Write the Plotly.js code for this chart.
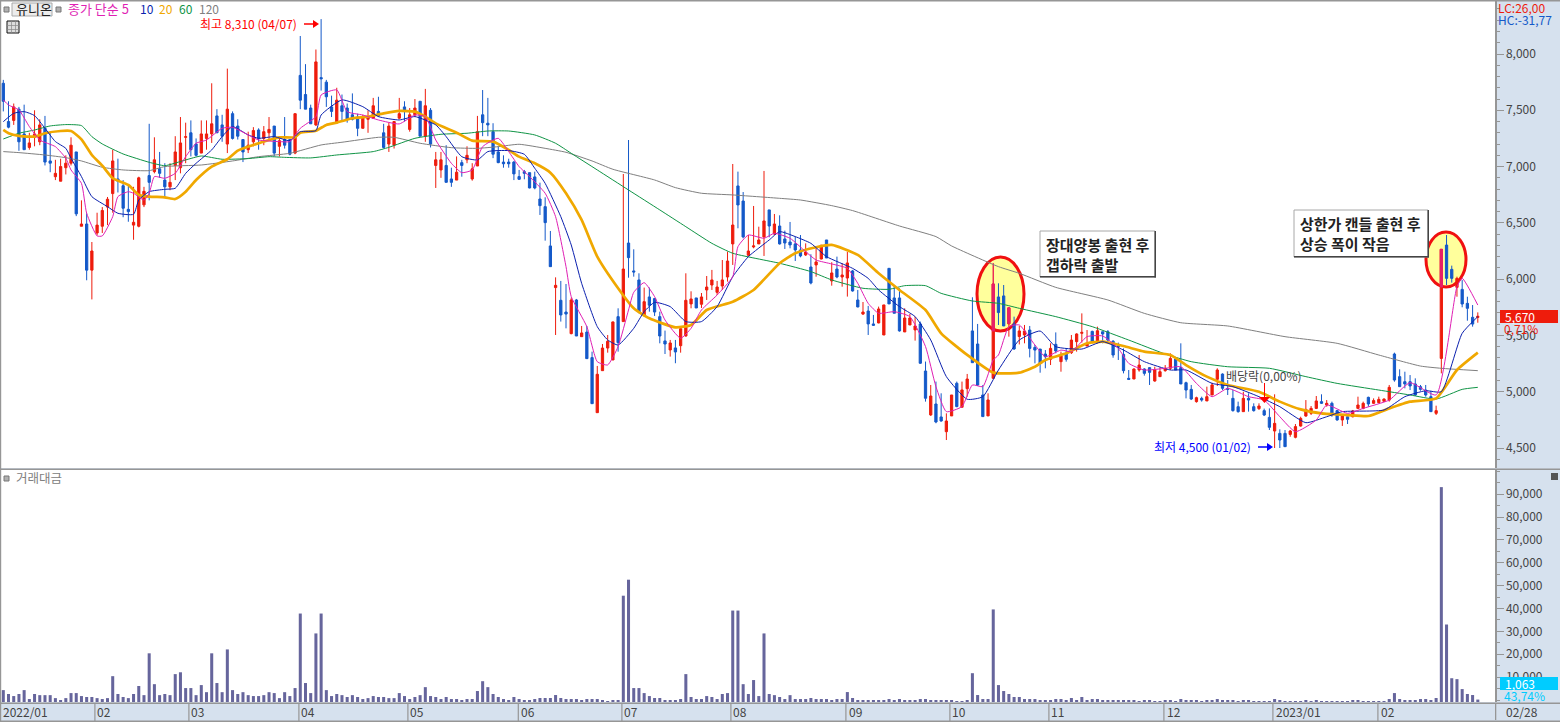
<!DOCTYPE html>
<html><head><meta charset="utf-8">
<script src="https://cdn.plot.ly/plotly-3.0.1.min.js"></script>
<style>html,body{margin:0;padding:0;background:#fff}#c{width:1560px;height:722px}</style>
</head><body><div id="c"></div>
<script>
// OHLC (one candle per trading day, 2022/01 .. 2023/02/28)
const openP=[7740,7400,7410,7510,7290,7170,7260,7220,7340,7050,6910,6870,6990,7030,7130,6470,6490,6080,6410,6470,6640,6760,6890,6830,6620,6480,6470,6660,6920,6955,6980,6880,6820,7010,6990,7260,7300,7200,7120,7250,7290,7450,7370,7200,7470,7360,7240,7150,7220,7325,7250,7300,7360,7180,7240,7240,7120,7810,7640,7520,7370,7790,7750,7530,7390,7540,7520,7460,7440,7340,7420,7430,7490,7300,7200,7190,7430,7530,7330,7460,7580,7270,7500,7010,6970,7010,6890,6880,7035,7060,6890,7005,7460,7385,7310,7130,
7040,7040,7040,6911,6955,6946,6908,6712,6644,6295,5925,5812,5708,5516,5815,5489,5530,5303,4814,5187,5388,5282,5667,5623,6321,6073,5993,5676,5842,5827,5667,5451,5371,5389,5409,5495,5780,5833,5777,5904,5948,5883,5939,6019,6313,6828,6694,6212,6286,6313,6375,6615,6401,6472,6357,6330,6313,6259,6215,6108,6126,6179,6348,5984,6090,6019,6010,6073,5815,5690,5717,5602,5611,5504,6096,5833,5833,5531,5593,5549,5602,5184,4794,4891,4776,4645,4785,5075,4862,5027,5540,5424,4971,4785,5119,5842,5851,5602,5602,
5490,5504,5548,5394,5379,5335,5288,5421,5267,5335,5347,5445,5519,5406,5536,5445,5533,5533,5448,5406,5332,5119,5113,5193,5202,5214,5095,5134,5187,5208,5290,5214,5080,5021,4912,4941,4918,4971,5110,5157,5030,4941,4867,4823,4941,4867,4850,4832,4772,4651,4630,4630,4621,4595,4695,4784,4808,4852,4912,4882,4897,4832,4749,4778,4778,4852,4852,4950,4897,4903,4915,4926,5335,5134,5089,5089,5069,5045,5015,4956,4808,5296,6303,6087,5927,5909,5785,5661,5660];
const highP=[7770,7580,7560,7530,7550,7300,7500,7420,7450,7310,7060,7070,7100,7260,7130,6700,6585,6330,6590,6640,6730,7150,7070,6880,6840,6820,6910,6820,7380,7260,7130,7030,7030,7270,7440,7390,7410,7250,7410,7410,7740,7510,7460,7870,7490,7420,7240,7310,7350,7340,7360,7440,7360,7270,7440,7240,7470,8160,7910,7550,8040,8310,7770,7630,7700,7640,7560,7650,7470,7460,7500,7610,7620,7380,7390,7400,7610,7580,7520,7600,7580,7690,7520,7130,7130,7190,6990,7090,7060,7180,7030,7450,7680,7610,7385,7180,
7100,7070,7050,6970,6970,6946,6955,6857,6727,6428,6016,5984,5957,5836,5824,5584,5584,5356,5229,5424,5504,5623,5741,6934,7236,6265,6052,5925,5925,5830,5711,5543,5460,5460,5578,6052,5892,5833,5877,6028,6082,5984,6170,6244,7023,6955,6774,6392,6650,6466,6961,6615,6579,6567,6431,6508,6378,6392,6318,6221,6289,6304,6348,6150,6200,6141,6241,6082,5904,5797,5762,5682,5756,5771,6096,5948,5919,5741,5691,5667,5623,5268,5060,5090,4986,4808,4971,5090,5090,5158,5839,5602,5060,4986,6141,5963,5948,5747,5667,
5585,5593,5584,5415,5379,5370,5430,5527,5356,5379,5504,5519,5696,5548,5542,5578,5533,5548,5459,5436,5385,5193,5208,5326,5208,5217,5222,5217,5237,5341,5305,5430,5089,5060,4956,4956,5045,5080,5208,5163,5104,5015,4912,5000,4986,4897,4897,4850,4852,4977,4666,4660,4660,4713,4778,4926,4873,4962,4977,4926,4912,4838,4793,4778,4838,4956,4912,4956,4941,4956,4941,5060,5347,5199,5178,5148,5119,5060,5060,5009,4876,6265,6392,6120,6022,5992,5844,5770,5705];
const lowP=[7490,7340,7370,7140,7150,7150,7180,7190,7010,6950,6880,6870,6930,7010,6560,6470,5990,5820,6390,6410,6480,6590,6770,6550,6510,6350,6460,6640,6700,6940,6900,6720,6790,6880,6940,7030,7090,7090,7120,7150,7210,7300,7220,7120,7240,7240,7040,7120,7180,7150,7190,7240,7090,7090,7160,7100,7110,7510,7510,7380,7360,7675,7530,7440,7380,7410,7390,7410,7270,7340,7300,7430,7440,7160,7130,7160,7420,7400,7310,7440,7270,7220,7170,6810,6900,6860,6820,6880,6910,7030,6875,7005,7270,7270,7075,7030,
6990,6990,6880,6881,6887,6807,6798,6570,6342,6111,5504,5623,5563,5510,5495,5489,5294,4894,4814,5187,5347,5282,5356,5623,6013,6022,5697,5667,5711,5673,5430,5335,5312,5253,5347,5489,5741,5744,5744,5815,5904,5859,5904,5978,6126,6452,6363,6206,6274,6313,6206,6372,6392,6307,6268,6274,6161,6194,6206,5954,6022,6176,6188,5942,6008,5933,5845,5889,5750,5682,5504,5584,5608,5504,5780,5697,5534,5531,5593,5454,5247,4912,4785,4720,4734,4571,4785,4862,4862,4956,5258,5051,4779,4785,5119,5593,5584,5489,5371,
5420,5430,5305,5252,5169,5208,5237,5341,5178,5267,5335,5356,5436,5406,5430,5430,5430,5445,5302,5282,5163,5104,5113,5178,5143,5060,5089,5134,5178,5193,5193,5069,4941,4926,4903,4912,4918,4971,5051,5015,4971,4823,4814,4823,4823,4823,4838,4784,4660,4500,4500,4512,4600,4586,4690,4778,4793,4846,4891,4867,4778,4743,4696,4713,4772,4852,4844,4867,4891,4897,4912,4912,5089,5045,5030,5015,4962,5009,4956,4823,4793,5163,5948,5969,5844,5750,5631,5578,5613];
const closeP=[7580,7350,7530,7220,7150,7210,7290,7370,7040,7030,6940,7000,7030,7190,6580,6490,6080,6250,6480,6610,6710,7050,6870,6630,6600,6505,6900,6780,6860,7060,6940,6820,6860,7130,7210,7265,7150,7100,7290,7290,7380,7300,7270,7510,7250,7270,7130,7190,7320,7250,7310,7330,7120,7230,7190,7110,7470,7590,7510,7380,7930,7780,7620,7490,7590,7490,7420,7420,7340,7440,7440,7540,7450,7170,7360,7400,7470,7490,7460,7520,7270,7540,7200,7060,7060,6860,6860,6950,7010,7100,6980,7310,7390,7370,7110,7035,
7025,7025,6935,6887,6940,6810,6810,6653,6502,6111,5945,5682,5690,5815,5495,5522,5294,4894,5155,5388,5448,5620,5436,6090,6191,6064,5708,5800,5768,5708,5495,5424,5433,5353,5560,5812,5824,5744,5842,5930,5993,5930,5993,6161,6481,6659,6375,6250,6295,6348,6517,6472,6490,6313,6321,6304,6259,6206,6241,5966,6153,6301,6188,6055,6019,6037,6144,5895,5753,5708,5602,5590,5735,5771,5780,5697,5540,5655,5655,5584,5253,4942,4962,4731,4740,4740,4971,4868,5016,5113,5258,5060,4779,4927,5957,5703,5584,5744,5380,
5540,5540,5385,5370,5252,5311,5385,5362,5317,5288,5459,5513,5527,5424,5445,5542,5513,5459,5326,5400,5187,5110,5202,5237,5163,5172,5193,5178,5208,5296,5193,5069,5015,4935,4947,4926,4956,5060,5193,5030,5021,4832,4823,4941,4926,4832,4873,4793,4684,4719,4571,4512,4651,4690,4763,4843,4852,4918,4897,4897,4793,4749,4784,4755,4829,4882,4897,4891,4921,4932,4935,5039,5104,5045,5069,5051,4971,5021,4971,4823,4832,6265,6007,6007,6007,5779,5741,5601,5670];
// 거래대금 (turnover)
const turnover=[5200,3500,2600,3500,5200,1300,3500,3000,3000,3000,1700,870,1700,3900,3900,2600,2200,2200,1700,1300,1700,11300,3500,2200,1700,3500,7000,3000,21300,7800,3000,3500,3000,12200,13000,6100,6100,3000,7400,4300,21300,8300,4300,23000,5200,3500,4300,3000,2600,2600,3000,4300,3900,1700,4300,2600,6100,38700,8300,3900,30000,38700,5200,2600,3500,3000,2200,3000,2200,1300,1700,2600,2200,2200,1700,1700,3900,2600,1300,2200,3000,6500,2600,2200,1300,2200,1300,1300,870,1300,1300,4800,9100,6500,3500,2200,1300,870,2200,1300,
870,870,1300,1740,1740,1740,3050,1740,1300,1300,1300,870,1300,1300,1300,870,435,870,870,46500,53500,6100,6100,3900,2600,1740,1740,870,870,870,1300,12200,2200,1300,1300,2600,2200,1300,3500,3900,40000,40000,7800,3500,9600,2600,30000,3500,3000,2200,1300,3000,1300,1300,1300,1740,1300,1300,1300,870,1300,1300,4350,1740,870,870,870,870,870,870,1300,870,1300,870,870,870,1300,1300,870,870,870,870,870,435,435,870,12600,3050,1300,1300,40500,7400,4800,3500,2200,2200,1300,1300,1300,
870,870,870,1300,1300,870,1740,870,2200,870,1300,1300,870,870,870,870,870,870,870,435,870,870,435,435,870,870,435,1300,870,870,870,435,870,870,1300,870,870,870,435,870,870,435,435,435,435,1300,870,435,435,435,435,870,435,870,435,435,435,435,435,435,870,870,435,435,435,435,435,1300,3900,1300,870,870,870,1300,1300,870,1740,94000,33900,10400,10000,5650,3500,3050,1063];
// Moving averages at the candle positions given
const ma5X=[0,1,3,5,7,10,12,13,15,16,18,19,21,22,24,25,27,28,29,31,33,35,37,39,42,44,47,49,53,55,57,60,61,64,66,69,72,76,79,81,83,86,88,90,92,95,97,99,101,104,106,108,109,112,114,116,118,120,121,123,125,127,130,132,134,137,140,141,143,146,148,151,154,156,159,162,164,166,168,171,174,177,179,181,184,186,188,190,191,193,195,198,200,203,205,208,211,214,216,219,223,226,229,232,235,239,242,245,248,252,254,258,261,266,270,275,279,280,283];
const ma5=[7592,7547,7503,7355,7236,7177,7074,6970,6851,6585,6384,6384,6555,6733,6777,6763,6703,6763,6911,6896,6940,7088,7207,7236,7340,7349,7281,7236,7222,7222,7340,7444,7636,7681,7488,7458,7414,7379,7458,7444,7236,7029,6946,6970,7177,7251,7133,7000,6911,6763,6555,6111,5845,5578,5267,5238,5401,5726,5883,5969,5845,5637,5475,5563,5726,5859,6022,6289,6392,6363,6407,6363,6244,6170,6135,6096,5963,5785,5697,5711,5667,5401,5045,4823,4868,5060,5045,5282,5326,5578,5593,5415,5311,5370,5356,5489,5495,5385,5252,5193,5208,5222,5074,4956,5030,4956,4926,4778,4645,4749,4882,4808,4852,4926,5080,4971,5933,6007,5770];
const ma10X=[0,2,4,6,8,10,12,13,15,17,20,22,25,26,28,31,33,35,37,40,42,44,47,49,52,55,57,60,61,65,69,72,76,79,83,85,88,91,93,97,100,102,104,107,109,111,114,116,118,121,123,125,128,131,134,137,140,143,147,149,152,155,158,163,166,168,172,175,178,181,185,188,191,195,199,202,207,211,215,219,224,227,232,236,241,245,250,254,257,265,269,273,276,280,283];
const ma10=[7399,7473,7488,7453,7340,7222,7162,7074,6911,6733,6644,6585,6576,6703,6777,6798,6807,6940,7029,7148,7266,7355,7281,7251,7266,7230,7310,7319,7458,7592,7532,7444,7414,7444,7370,7266,7088,7059,7133,7142,7109,6985,6851,6555,6304,5963,5578,5460,5415,5563,5711,5794,5756,5623,5623,5756,6022,6200,6348,6422,6378,6318,6200,6096,6007,5904,5756,5667,5460,5134,4933,4956,5193,5459,5539,5400,5379,5445,5370,5267,5193,5193,5074,5045,4956,4867,4725,4778,4823,4838,4956,5009,5000,5519,5667];
const ma20X=[0,1,3,6,8,11,13,15,17,19,21,24,26,28,31,33,35,37,40,43,45,48,51,53,56,57,60,62,64,67,70,73,76,79,81,83,87,90,94,97,99,102,105,108,111,114,118,121,124,129,132,135,140,144,149,152,156,159,164,168,172,177,180,185,190,195,198,200,204,208,211,215,219,224,227,231,235,241,245,249,253,258,262,266,270,275,279,283];
const ma20=[7325,7296,7272,7266,7296,7316,7316,7242,7103,7008,6896,6837,6748,6733,6727,6712,6777,6881,7000,7065,7142,7192,7236,7260,7260,7301,7319,7370,7390,7429,7444,7473,7494,7488,7444,7384,7301,7230,7222,7148,7088,7029,6946,6763,6526,6200,5919,5741,5652,5572,5593,5726,5800,5904,6141,6230,6283,6304,6215,6052,5904,5726,5519,5327,5170,5169,5222,5282,5341,5430,5445,5406,5356,5326,5237,5134,5060,5000,4912,4843,4808,4793,4784,4852,4912,4941,5193,5347];
const ma60X=[0,3,6,9,12,15,17,19,23,28,31,35,38,42,47,51,54,59,64,71,74,79,84,89,93,97,102,106,109,114,120,126,131,136,140,149,155,159,165,170,173,177,180,186,191,195,202,209,216,223,228,235,243,250,256,264,270,275,280,283];
const ma60=[7245,7296,7325,7361,7373,7364,7266,7201,7112,7038,7008,7059,7094,7065,7071,7088,7082,7077,7103,7133,7171,7251,7287,7296,7316,7316,7281,7207,7118,6970,6792,6615,6466,6318,6230,6141,6067,5993,5919,5910,5942,5942,5874,5806,5785,5741,5667,5578,5459,5335,5267,5222,5208,5134,5074,5015,4971,4935,5021,5039];
const ma120X=[0,3,8,12,15,19,23,28,31,38,44,49,55,61,65,72,75,80,86,91,95,99,104,108,113,117,125,129,134,140,149,153,159,163,172,179,182,191,195,202,212,219,226,235,246,256,264,272,276,283];
const ma120=[7133,7124,7103,7079,7050,6994,6970,6964,7000,7014,7050,7088,7118,7192,7216,7260,7260,7207,7168,7162,7177,7198,7162,7127,7050,6976,6881,6813,6763,6748,6718,6703,6653,6609,6472,6378,6295,6111,6052,5927,5815,5696,5613,5584,5489,5430,5326,5228,5208,5187];
// pink parts of candles seen through the yellow highlight
const hiX=[190,193,276], hiOpen=[5539,5607,5930], hiHigh=[6141,5747,6265], hiLow=[5539,5607,5930], hiClose=[5957,5747,6265];
// Axis text
const monthLabels=['2022/01','02','03','04','05','06','07','08','09','10','11','12','2023/01','02'];
const monthIdx=[-0.5,17.5,35.5,56.6,77.5,98.8,118.6,139.5,161.7,181.6,200.6,222.8,243.7,263.9];
const priceTicks=[4500,5000,5500,6000,6500,7000,7500,8000];
const turnTicks=[10000,20000,30000,40000,50000,60000,70000,80000,90000];

const F='"Noto Sans CJK KR","Liberation Sans",sans-serif';
const W=1560,H=722,PW=1495,PH=702;
const RED='#ee1c0c',BLUE='#1459c9',GRID='#969696',BG='#d6e1ee';
const px=x=>x/PW, py=y=>(PH-y)/PH;
const idx=openP.map((_,i)=>i);

const candle=(x,o,h,l,c,col,name)=>({type:'candlestick',x,open:o,high:h,low:l,close:c,name,xaxis:'x',yaxis:'y',hoverinfo:'skip',showlegend:false,whiskerwidth:0,
  increasing:{line:{color:col.up,width:1},fillcolor:col.up},decreasing:{line:{color:col.dn,width:1},fillcolor:col.dn}});
const line=(x,y,color,width,name)=>({type:'scatter',mode:'lines',x,y,name,xaxis:'x',yaxis:'y',hoverinfo:'skip',showlegend:false,line:{color,width,shape:'spline',smoothing:0.5}});

const traces=[
  line(ma120X,ma120,'#7f7f7f',1,'120'),
  line(ma60X,ma60,'#0f9445',1,'60'),
  candle(idx,openP,highP,lowP,closeP,{up:RED,dn:BLUE},'price'),
  candle(hiX,hiOpen,hiHigh,hiLow,hiClose,{up:'#e8206a',dn:'#e8206a'},'highlight'),
  line(ma20X,ma20,'#f0a800',2.7,'20'),
  line(ma10X,ma10,'#0a1fae',1,'10'),
  line(ma5X,ma5,'#e01fb4',1,'5'),
  {type:'bar',x:idx,y:turnover,base:-875,width:0.58,marker:{color:'#66659c',line:{width:0}},xaxis:'x',yaxis:'y2',hoverinfo:'skip',showlegend:false,name:'거래대금'}
];

const R=(x0,y0,x1,y1,fill,lc,lw)=>({type:'rect',xref:'paper',yref:'paper',x0:px(x0),x1:px(x1),y0:py(y1),y1:py(y0),fillcolor:fill,line:lc?{color:lc,width:lw||1}:{width:0}});
const shapes=[
 {type:'circle',xref:'paper',yref:'paper',x0:px(977),x1:px(1024),y0:py(331),y1:py(257),fillcolor:'#ffff9c',line:{color:'#f01010',width:3},layer:'below'},
 {type:'circle',xref:'paper',yref:'paper',x0:px(1426),x1:px(1466),y0:py(287),y1:py(232),fillcolor:'#ffff9c',line:{color:'#f01010',width:3},layer:'below'},
 R(0,468.5,W,470,GRID), R(0,0,W,1.5,GRID), R(0,0,1.2,H,GRID), R(0,702.5,W,704,GRID), R(0,720.5,W,722,GRID), R(1495,703,1496.3,720,GRID),
 // value flags on the right axis
 R(1500,310,1558,323,RED), R(1500,677,1558,690,'#00ccff'),
 // note boxes: light top/left edge, dark bottom/right edge
 R(1040,231,1155,277,'#fff','#a8a8a8'), R(1040,276,1156,277.5,'#444'), R(1154.5,231,1156,277.5,'#444'),
 R(1294,210,1428,257,'#fff','#a8a8a8'), R(1294,256,1429,257.5,'#444'), R(1427.5,210,1429,257.5,'#444'),
 // toolbar bits
 R(12,3,52,16,'#ececec','#aaa'), R(4,7,9,12,'#b0b0b0','#777'), R(56,7,61,12,'#b0b0b0','#777'), R(4,476,9,481,'#b0b0b0','#777'),
 R(7,21,19,33,'#ddd','#111'), R(7,25,19,25.7,'#888'), R(7,29,19,29.7,'#888'), R(11,21,11.7,33,'#888'), R(15,21,15.7,33,'#888'),
 R(1551,473,1558,480,'#555'),
 // arrows
 {type:'line',xref:'paper',yref:'paper',x0:px(304),x1:px(316),y0:py(24),y1:py(24),line:{color:'#f00',width:1.5}},
 {type:'path',xref:'paper',yref:'paper',path:`M ${px(313)} ${py(20)} L ${px(319)} ${py(24)} L ${px(313)} ${py(28)} Z`,fillcolor:'#f00',line:{width:0}},
 {type:'line',xref:'paper',yref:'paper',x0:px(1258),x1:px(1270),y0:py(447),y1:py(447),line:{color:'#00f',width:1.5}},
 {type:'path',xref:'paper',yref:'paper',path:`M ${px(1267)} ${py(443)} L ${px(1273)} ${py(447)} L ${px(1267)} ${py(451)} Z`,fillcolor:'#00f',line:{width:0}},
 {type:'line',xref:'paper',yref:'paper',x0:px(1264.5),x1:px(1264.5),y0:py(383),y1:py(398),line:{color:'#f00',width:1}},
 {type:'path',xref:'paper',yref:'paper',path:`M ${px(1259)} ${py(397)} L ${px(1270)} ${py(397)} L ${px(1264.5)} ${py(403)} Z`,fillcolor:'#f00',line:{width:0}}
];
const sepX=[94.3,188.3,298.3,407.3,517.7,621.3,730.3,845.3,949.3,1048.3,1163.3,1272.3,1377.3];
sepX.forEach(x=>shapes.push(R(x,703,x+1.2,721,GRID)));

const note=(x,y,text,color,size,anchor)=>({xref:'paper',yref:'paper',x:px(x),y:py(y),text,showarrow:false,xanchor:anchor||'left',yanchor:'middle',font:{family:F,size:size||12,color},align:'left',borderpad:0});
const annotations=[
 note(15,9,'유니온','#222',13),
 note(67,9,'종가 단순 5','#e01fb4',13),
 note(139,9,'10','#0a1fae',12),
 note(158,9,'20','#f0a800',12),
 note(178,9,'60','#0f9445',12),
 note(198,9,'120','#808080',12),
 note(199,23.5,'최고 8,310 (04/07)','#f00',12),
 note(1153,446.5,'최저 4,500 (01/02)','#00f',12),
 note(1225,375,'배당락(0,00%)','#444',12),
 note(15,478,'거래대금','#808080',12.5),
 note(1045,254,'<b>장대양봉 출현 후<br>갭하락 출발</b>','#222',15),
 note(1299,233,'<b>상한가 캔들 출현 후<br>상승 폭이 작음</b>','#222',15),
 note(1497,7,'LC:26,00','#ee1c0c',12),
 note(1497,19,'HC:-31,77','#1459c9',12),
 note(1504,316.5,'5,670','#fff',12),
 note(1503,328,'0,71%','#ee1c0c',12),
 note(1504,683.5,'1,063','#fff',12),
 note(1503,695,'43,74%','#00ccff',12),
 note(1505,711.5,'02/28','#444',12)
];
monthLabels.forEach((t,k)=>{annotations.push({xref:'x',yref:'paper',x:monthIdx[k],y:py(711.5),text:t,showarrow:false,xanchor:'left',yanchor:'middle',xshift:k===0?0:1,font:{family:F,size:12,color:'#444'}});});

const axisCommon={side:'right',tickformat:',d',ticks:'outside',ticklen:7,tickcolor:GRID,tickwidth:1,showgrid:false,zeroline:false,showline:true,linecolor:GRID,linewidth:1.5,tickfont:{family:F,size:12,color:'#444'},fixedrange:true,anchor:'x'};
const layout={
 width:W,height:H,margin:{l:0,r:W-PW,t:0,b:H-PH,pad:0},paper_bgcolor:BG,plot_bgcolor:'#fff',showlegend:false,dragmode:false,boxgap:0.38,
 font:{family:F,size:12,color:'#444'},
 xaxis:{range:[-0.633,286.3],visible:true,showticklabels:false,ticks:'',showgrid:false,zeroline:false,showline:false,rangeslider:{visible:false},anchor:'y2',fixedrange:true},
 yaxis:Object.assign({},axisCommon,{domain:[py(468),1],range:[8000-(468-54)*8.883,8000+54*8.883],tickvals:priceTicks,minor:{dtick:100,ticks:'outside',ticklen:3,tickcolor:GRID,tickwidth:1}}),
 yaxis2:Object.assign({},axisCommon,{domain:[0,py(470)],range:[-875,100612],tickvals:turnTicks,minor:{dtick:5000,ticks:'outside',ticklen:3,tickcolor:GRID,tickwidth:1}}),
 shapes,annotations
};
Plotly.newPlot('c',traces,layout,{displayModeBar:false,staticPlot:true});
</script></body></html>
